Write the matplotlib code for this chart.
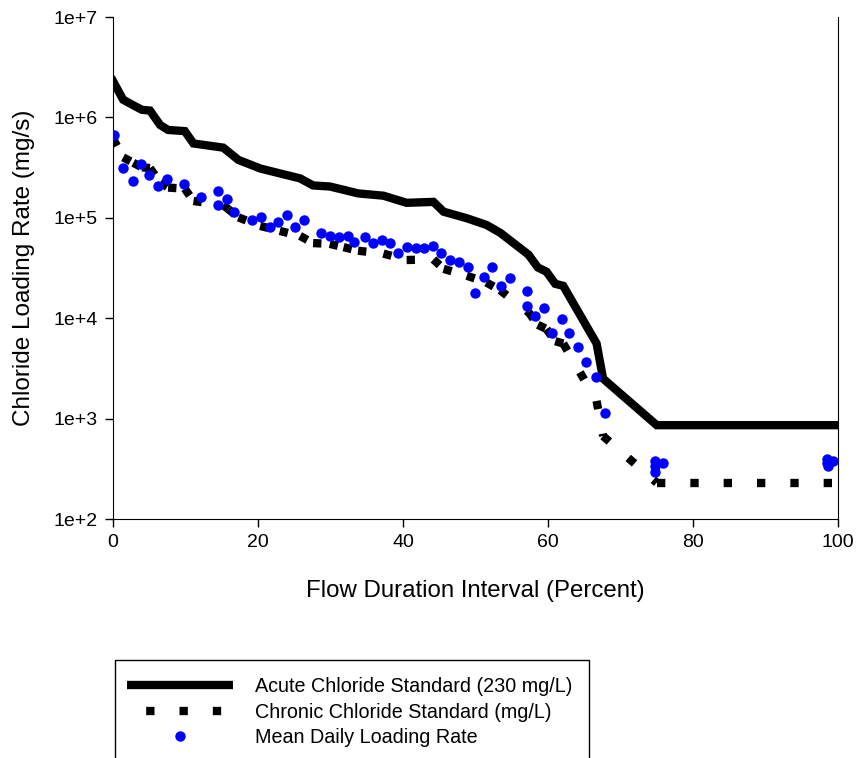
import matplotlib.pyplot as plt
import numpy as np
from matplotlib.lines import Line2D
from matplotlib.patches import Rectangle

plt.rcParams['font.family'] = ['Liberation Sans', 'DejaVu Sans']

# acute standard (230 mg/L) loading curve
x_acute = [0, 1.4, 2.8, 4.0, 5.1, 6.5, 7.6, 9.9, 11.1, 15.2, 15.9, 17.3, 20.3, 23.0, 25.8,
           27.6, 29.9, 31.8, 33.8, 37.3, 40.5, 44.2, 45.6, 48.8, 51.5, 53.4, 57.3, 58.6,
           59.8, 61.0, 62.1, 66.7, 67.6, 75.0, 100]
y_acute = [2.3e6, 1.5e6, 1.32e6, 1.19e6, 1.17e6, 8.4e5, 7.5e5, 7.3e5, 5.5e5, 5.0e5, 4.55e5,
           3.77e5, 3.1e5, 2.77e5, 2.47e5, 2.1e5, 2.05e5, 1.9e5, 1.75e5, 1.66e5, 1.41e5,
           1.44e5, 1.15e5, 9.9e4, 8.5e4, 7.1e4, 4.3e4, 3.2e4, 2.9e4, 2.2e4, 2.1e4, 5.6e3,
           2.5e3, 860, 860]
# chronic standard curve
x_chronic = x_acute
y_chronic = [6.15e5, 4.0e5, 3.53e5, 3.18e5, 3.13e5, 2.25e5, 2.0e5, 1.95e5, 1.47e5, 1.34e5,
             1.22e5, 1.01e5, 8.3e4, 7.4e4, 6.6e4, 5.6e4, 5.5e4, 5.1e4, 4.7e4, 4.4e4, 3.8e4,
             3.85e4, 3.1e4, 2.65e4, 2.27e4, 1.9e4, 1.15e4, 8.6e3, 7.8e3, 5.9e3, 5.6e3,
             1.5e3, 670, 230, 230]
# mean daily loading
x_mean = [0.2, 1.4, 2.7, 3.9, 5.0, 6.2, 7.4, 9.8, 12.1, 14.5, 14.5, 15.7, 16.7, 19.2, 20.4,
          21.6, 22.8, 24.0, 25.1, 26.3, 28.7, 29.9, 31.2, 32.4, 33.3, 34.7, 35.9, 37.1,
          38.2, 39.3, 40.5, 41.8, 42.9, 44.1, 45.3, 46.5, 47.7, 48.9, 49.9, 51.2, 52.3,
          53.5, 54.7, 57.1, 57.1, 58.2, 59.4, 60.6, 61.9, 62.9, 64.2, 65.3, 66.6, 67.8,
          74.8, 74.8, 74.8, 75.9, 98.5, 98.5, 99.3, 98.6]
y_mean = [6.7e5, 3.1e5, 2.33e5, 3.4e5, 2.67e5, 2.07e5, 2.43e5, 2.16e5, 1.6e5, 1.85e5, 1.34e5,
          1.54e5, 1.14e5, 9.5e4, 1.03e5, 8.1e4, 9.0e4, 1.07e5, 8.1e4, 9.4e4, 7.1e4, 6.6e4,
          6.5e4, 6.6e4, 5.8e4, 6.4e4, 5.65e4, 6.0e4, 5.65e4, 4.5e4, 5.1e4, 5.0e4, 5.0e4,
          5.2e4, 4.5e4, 3.8e4, 3.6e4, 3.2e4, 1.8e4, 2.6e4, 3.2e4, 2.1e4, 2.5e4, 1.87e4,
          1.32e4, 1.06e4, 1.27e4, 7.2e3, 9.8e3, 7.1e3, 5.2e3, 3.7e3, 2.6e3, 1.13e3,
          380, 296, 335, 359, 400, 358, 380, 335]

yticks = [1e2, 1e3, 1e4, 1e5, 1e6, 1e7]
ytick_labels = ['1e+2', '1e+3', '1e+4', '1e+5', '1e+6', '1e+7']
xticks = [0, 20, 40, 60, 80, 100]

fig = plt.figure(figsize=(8.58, 7.58), dpi=100)
ax = fig.add_axes([113/858, 1-519/758, 725/858, 502/758])

lw = 6
dash = (0, (1, 3.0))
ax.plot(x_acute, y_acute, '-', color='black', lw=lw, solid_joinstyle='miter', zorder=2)
# chronic drawn piece by piece so the dash pattern restarts at every point
for i in range(len(x_chronic)-1):
    ax.plot(x_chronic[i:i+2], y_chronic[i:i+2], color='black', lw=lw, ls=dash,
            dash_capstyle='butt', zorder=2)
ax.plot(x_mean, y_mean, 'o', color='blue', ms=7.5, mec='none', zorder=3)

ax.set_yscale('log')
ax.set_xlim(0, 100)
ax.set_ylim(1e2, 1e7)
ax.set_yticks(yticks)
ax.set_yticklabels(ytick_labels)
ax.yaxis.set_minor_locator(plt.NullLocator())
ax.set_xticks(xticks)
ax.tick_params(direction='out', length=6, width=1, labelsize=14, pad=5)
ax.spines['top'].set_visible(False)
ax.set_xlabel('Flow Duration Interval (Percent)', fontsize=17.3, labelpad=21)
ax.set_ylabel('Chloride Loading Rate (mg/s)', fontsize=17.5, labelpad=13)

h1 = Line2D([], [], color='black', lw=lw, solid_capstyle='butt')
h2 = Line2D([], [], color='black', lw=lw, ls=(1.7, (1, 3.0)), dash_capstyle='butt')
h3 = Line2D([], [], color='blue', marker='o', ls='none', ms=7.5, mec='none')
fig.legend([h1, h2, h3],
           ['Acute Chloride Standard (230 mg/L)', 'Chronic Chloride Standard (mg/L)',
            'Mean Daily Loading Rate'],
           loc='upper left', bbox_to_anchor=(127/858, 1-677/758), frameon=False,
           fontsize=14.2, handlelength=5.38, handletextpad=1.12, labelspacing=0.33,
           borderpad=0, borderaxespad=0)
fig.patches.append(Rectangle((115/858, -0.05), (589-115)/858, 0.05+(758-660)/758,
                             transform=fig.transFigure, fill=False, ec='black', lw=1))

plt.savefig('out.png', dpi=100)
